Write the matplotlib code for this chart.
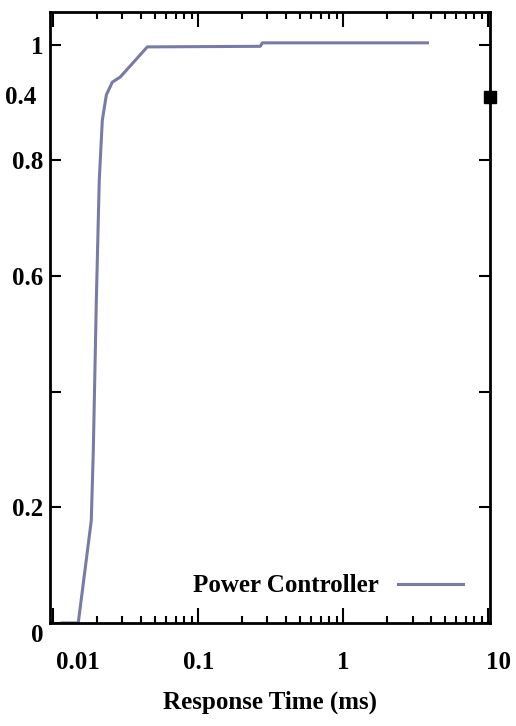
import matplotlib.pyplot as plt
from matplotlib.transforms import ScaledTranslation

# response time (ms) vs cumulative fraction
resp_time = [0.01153, 0.01487, 0.01828, 0.01888, 0.01981, 0.02075, 0.02178,
             0.02322, 0.02553, 0.02898, 0.04450, 0.2677, 0.2763, 3.80]
cdf = [0.0, 0.0, 0.177, 0.298, 0.558, 0.765, 0.869,
       0.913, 0.935, 0.944, 0.996, 0.997, 1.003, 1.003]

y_ticks = [0, 0.2, 0.4, 0.6, 0.8, 1]
y_labels = ["0", "0.2", "", "0.6", "0.8", "1"]
x_ticks = [0.01, 0.1, 1, 10]
x_labels = ["0.01", "0.1", "1", "10"]

plt.rcParams["font.family"] = ["Liberation Serif", "DejaVu Serif"]
plt.rcParams["font.weight"] = "bold"

fig = plt.figure(figsize=(5.16, 7.26), dpi=100)
ax = fig.add_axes([0.097, 0.142, 0.853, 0.842])

ax.plot(resp_time, cdf, color="#7a7aa8", linewidth=2.2, label="Power Controller")

ax.set_xscale("log")
ax.set_xlim(0.0095, 10.3)
ax.set_ylim(0, 1.057)
ax.set_xticks(x_ticks)
ax.set_xticklabels(x_labels)
ax.set_yticks(y_ticks)
ax.set_yticklabels(y_labels)

ax.tick_params(which="both", direction="in", top=True, right=True,
               labelsize=18, width=1.5)
ax.tick_params(which="major", length=8)
ax.tick_params(which="minor", length=5)
ax.tick_params(axis="x", which="major", length=11, pad=20)
ax.tick_params(axis="y", pad=5)
for s in ax.spines.values():
    s.set_linewidth(2)

# the outer x labels sit a bit to the right in the reference
fig.canvas.draw()
xl = ax.get_xticklabels()
xl[0].set_transform(xl[0].get_transform() + ScaledTranslation(0.25, 0, fig.dpi_scale_trans))
xl[-1].set_transform(xl[-1].get_transform() + ScaledTranslation(0.1, 0, fig.dpi_scale_trans))
yl = ax.get_yticklabels()
yl[0].set_transform(yl[0].get_transform() + ScaledTranslation(0, -0.1, fig.dpi_scale_trans))

# stray label and marker seen in the reference
ax.text(-0.03, 0.909, "0.4", transform=ax.get_yaxis_transform(),
        ha="right", va="center", fontsize=18, fontweight="bold")
ax.plot([1.0], [0.909], marker="s", color="black", markersize=9,
        transform=ax.get_yaxis_transform(), clip_on=False)

ax.set_xlabel("Response Time (ms)", fontsize=18, fontweight="bold", labelpad=12)
ax.legend(loc="lower right", frameon=False, fontsize=18, handlelength=2.6,
          markerfirst=False, bbox_to_anchor=(0.99, 0.005))

fig.savefig("out.png", dpi=100)
